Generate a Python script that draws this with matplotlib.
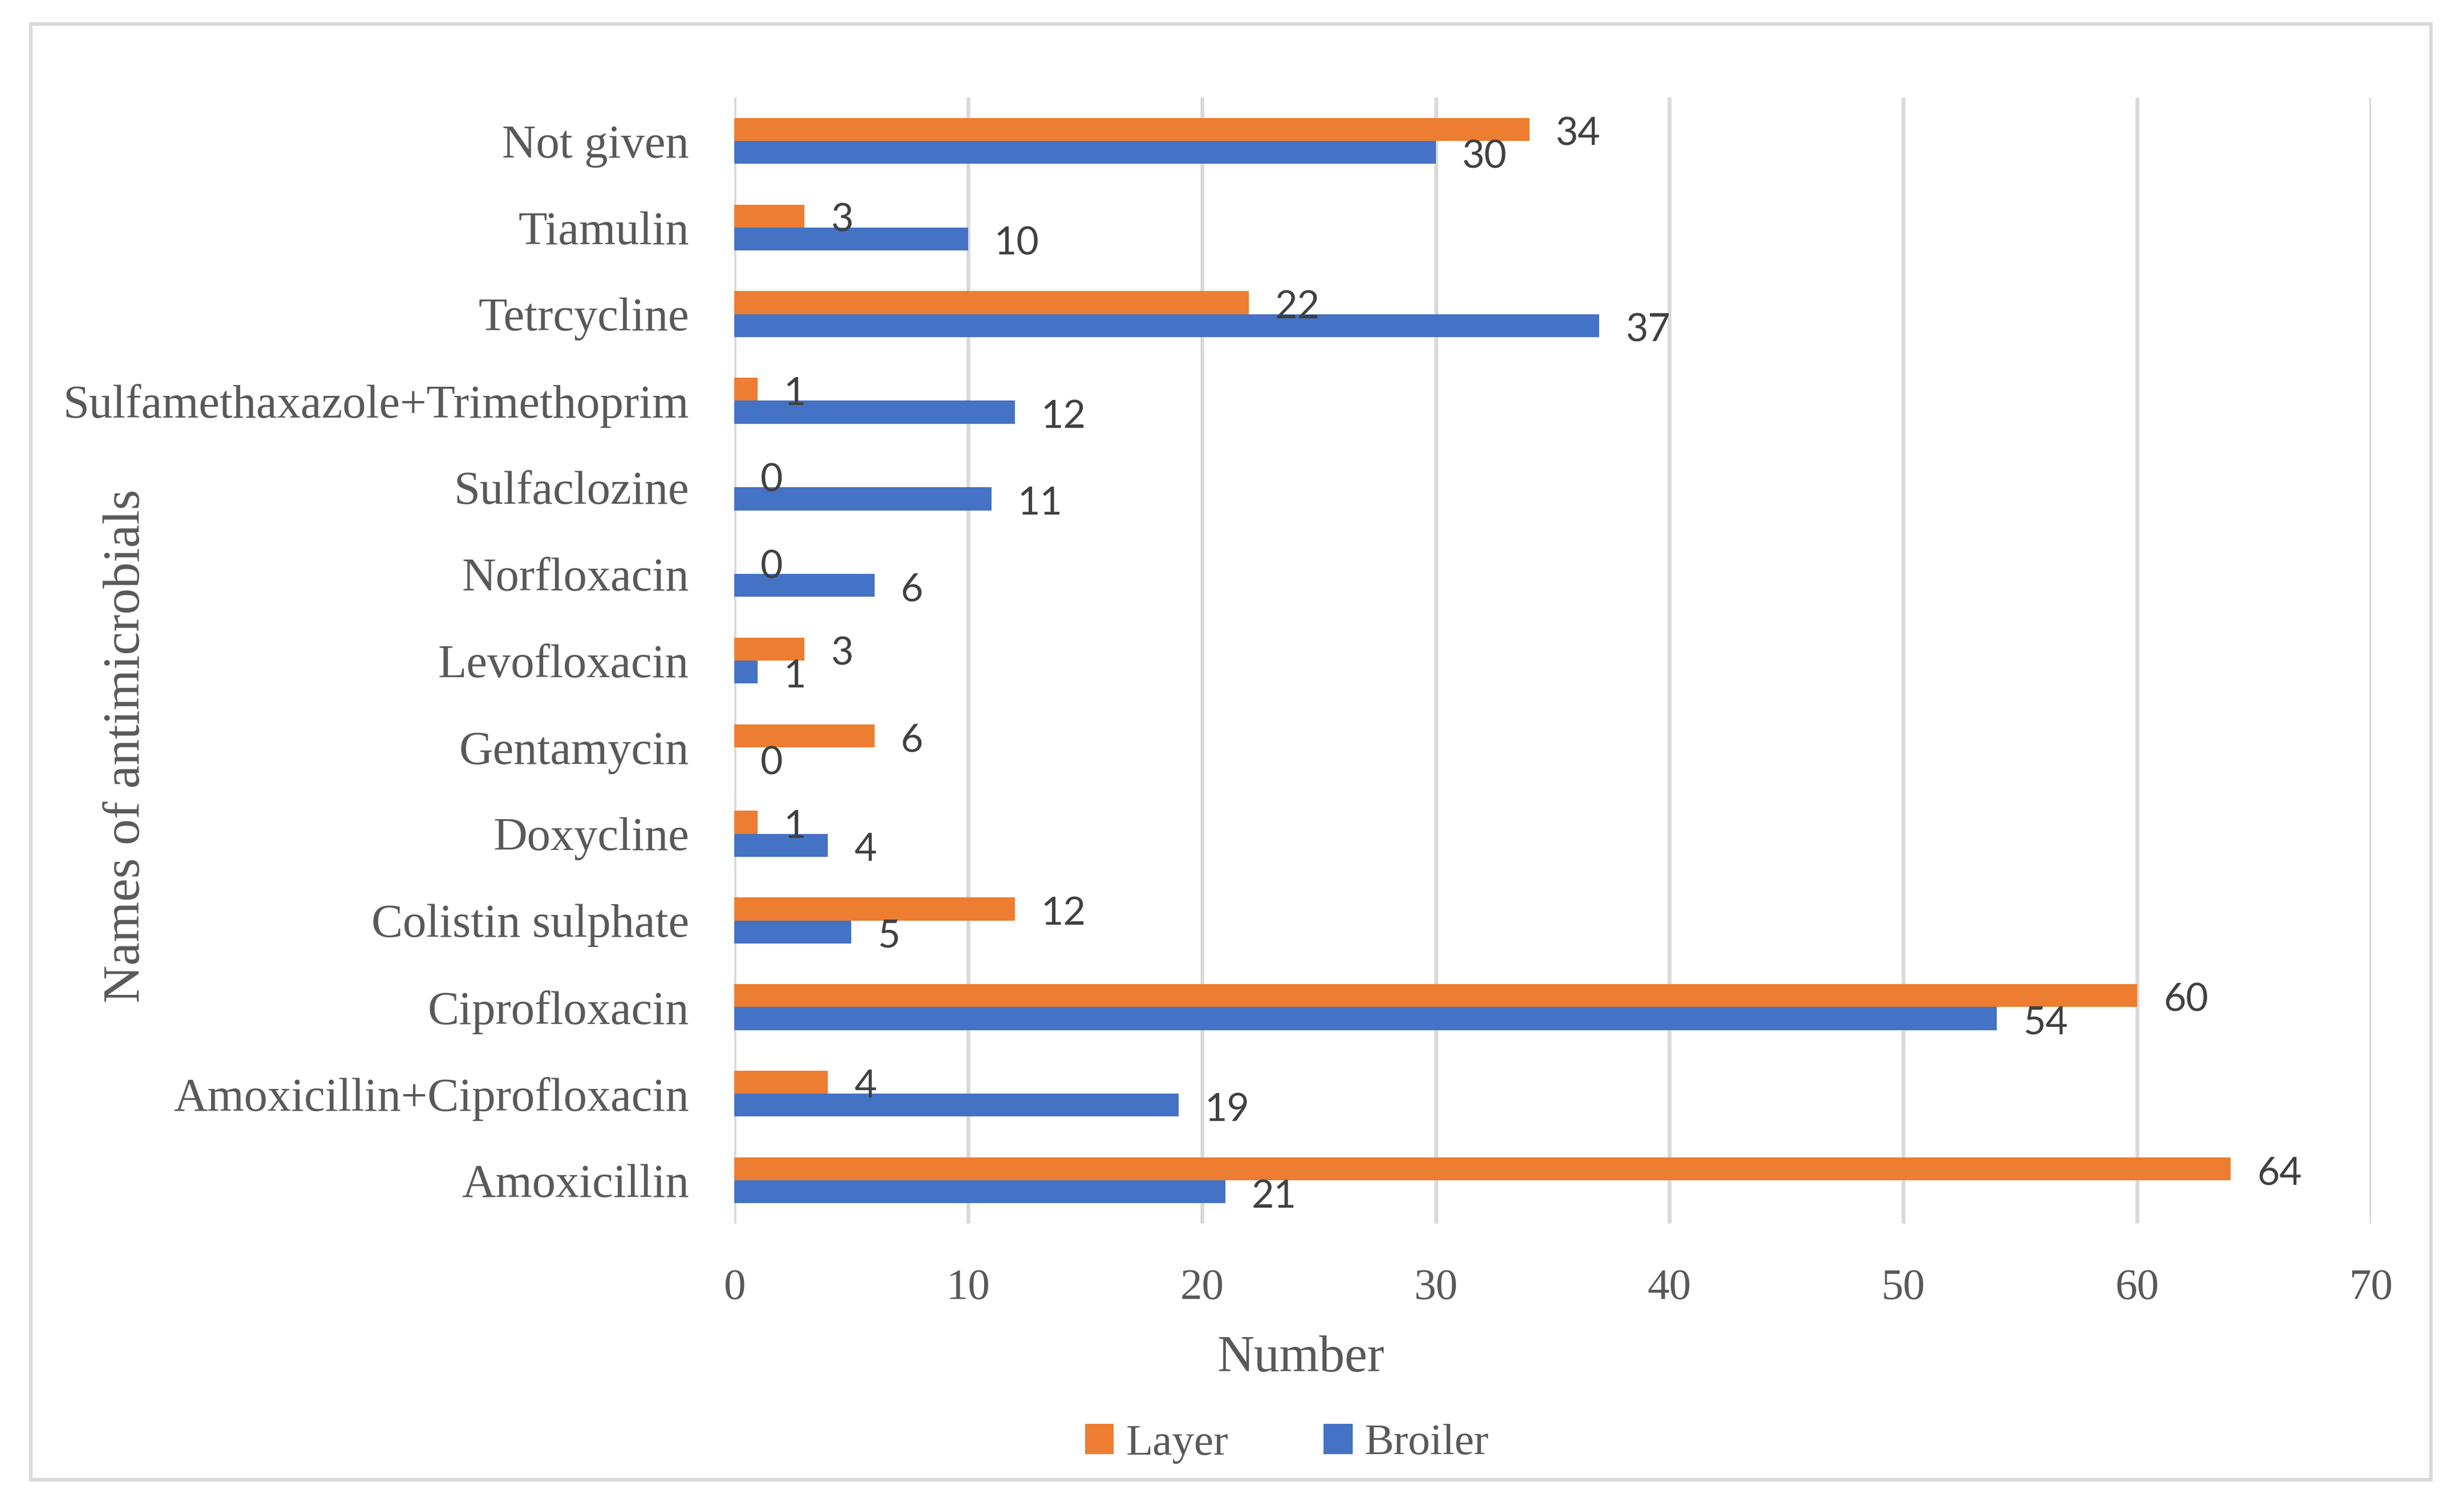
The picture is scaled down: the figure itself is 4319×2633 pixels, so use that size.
import matplotlib.pyplot as plt
from matplotlib.patches import Rectangle, Patch
import numpy as np

# Data (bottom to top, as drawn)
categories = ["Amoxicillin", "Amoxicillin+Ciprofloxacin", "Ciprofloxacin",
              "Colistin sulphate", "Doxycline", "Gentamycin", "Levofloxacin",
              "Norfloxacin", "Sulfaclozine", "Sulfamethaxazole+Trimethoprim",
              "Tetrcycline", "Tiamulin", "Not given"]
layer = [64, 4, 60, 12, 1, 6, 3, 0, 0, 1, 22, 3, 34]
broiler = [21, 19, 54, 5, 4, 0, 1, 6, 11, 12, 37, 10, 30]
x_ticks = [0, 10, 20, 30, 40, 50, 60, 70]

ORANGE = "#ED7D31"
BLUE = "#4472C4"
GRID = "#D9D9D9"
TXT = "#595959"
LBL = "#404040"
SERIF = ["Liberation Serif", "DejaVu Serif"]

W, H = 4319, 2633
fig = plt.figure(figsize=(W / 300, H / 300), dpi=300)
ax = fig.add_axes([1287 / W, 1 - 2145 / H, (4156 - 1287) / W, (2145 - 171) / H])

y = np.arange(len(categories))
h = 0.265
ax.barh(y + h / 2, layer, height=h, color=ORANGE, zorder=3)
ax.barh(y - h / 2, broiler, height=h, color=BLUE, zorder=3)

# data labels
for yi, v in zip(y, layer):
    ax.annotate(str(v), (v, yi + h / 2), xytext=(11, -2), textcoords="offset points",
                ha="left", va="center", fontsize=16.3, color=LBL, family="Lato")
for yi, v in zip(y, broiler):
    ax.annotate(str(v), (v, yi - h / 2), xytext=(11, -2), textcoords="offset points",
                ha="left", va="center", fontsize=16.3, color=LBL, family="Lato")

ax.set_xlim(0, 70)
ax.set_ylim(-0.5, len(categories) - 0.5)
ax.set_xticks(x_ticks)
ax.set_yticks(y)
ax.set_yticklabels(categories, family=SERIF, fontsize=19.8, color=TXT)
ax.set_xticklabels([str(t) for t in x_ticks], family=SERIF, fontsize=18.5, color=TXT)
ax.tick_params(axis="both", length=0)
ax.tick_params(axis="y", pad=19)
ax.tick_params(axis="x", pad=19)
ax.grid(axis="x", color=GRID, linewidth=1.6, zorder=0)
for s in ax.spines.values():
    s.set_visible(False)

fig.text(2280 / W, 1 - 2382 / H, "Number", ha="center", va="center",
         family=SERIF, fontsize=21.5, color=TXT)
fig.text(222 / W, 1 - 1308 / H, "Names of antimicrobials", ha="center", va="center",
         rotation=90, family=SERIF, fontsize=22, color=TXT)

handles = [Patch(color=ORANGE, label="Layer"), Patch(color=BLUE, label="Broiler")]
fig.legend(handles=handles, loc="center", bbox_to_anchor=(2257 / W, 1 - 2531 / H),
           ncol=2, frameon=False, prop={"family": SERIF, "size": 18.5},
           labelcolor=TXT, handlelength=0.6, handleheight=0.6, handletextpad=0.3,
           columnspacing=2.2)

# chart area border
fig.patches.append(Rectangle((54 / W, 1 - 2594 / H), (4261 - 54) / W, (2594 - 42) / H,
                             transform=fig.transFigure, fill=False,
                             edgecolor=GRID, linewidth=1.5))

fig.savefig("out.png", dpi=300)
